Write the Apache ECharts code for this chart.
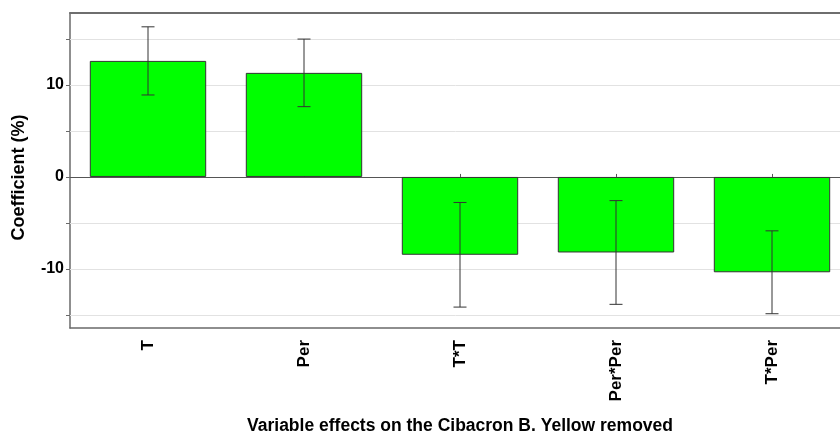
<!DOCTYPE html>
<html>
<head>
<meta charset="utf-8">
<script src="https://cdn.jsdelivr.net/npm/echarts@6/dist/echarts.min.js"></script>
<style>
  html, body { margin: 0; padding: 0; background: #ffffff; }
  #chart { width: 840px; height: 434px; }
</style>
</head>
<body>
<div id="chart"></div>
<script>
// Effect terms and their fitted coefficients (%) with confidence half-widths
const categories = ['T', 'Per', 'T*T', 'Per*Per', 'T*Per'];
const coefficients = [12.6, 11.3, -8.45, -8.2, -10.35];
const errorHalfWidths = [3.7, 3.67, 5.68, 5.63, 4.5];

// Value axis setup
const yMin = -16.4;
const yMax = 17.8;
const yLabelValues = [-10, 0, 10];
const yTickValues = [-15, -10, -5, 0, 5, 10, 15];
const gridLineValues = [-15, -10, -5, 5, 10, 15];

const errorData = categories.map((c, i) => [
  i,
  coefficients[i] - errorHalfWidths[i],
  coefficients[i] + errorHalfWidths[i]
]);

const chart = echarts.init(document.getElementById('chart'), null, { renderer: 'canvas' });

const boldFont = 'Arial, "Liberation Sans", sans-serif';

chart.setOption({
  animation: false,
  backgroundColor: '#ffffff',
  grid: {
    left: 70, top: 13, width: 780, bottom: 106,
    containLabel: false, outerBoundsMode: 'none'
  },
  xAxis: [
    {
      type: 'category',
      data: categories,
      position: 'bottom',
      axisLine: { onZero: false, lineStyle: { color: '#6a6a6a', width: 1.5 } },
      axisTick: { show: false },
      axisLabel: {
        rotate: 90, margin: 12,
        color: '#000', fontWeight: 'bold', fontSize: 17, fontFamily: boldFont
      },
      name: 'Variable effects on the Cibacron B. Yellow removed',
      nameLocation: 'middle',
      nameGap: 89,
      nameTextStyle: { color: '#000', fontWeight: 'bold', fontSize: 17.5, fontFamily: boldFont },
      splitLine: { show: false }
    },
    {
      type: 'category',
      data: categories,
      position: 'bottom',
      axisLine: { onZero: true, lineStyle: { color: '#555555', width: 1 } },
      axisTick: { show: true, inside: true, length: 3, alignWithLabel: true, lineStyle: { color: '#555' } },
      axisLabel: { show: false },
      splitLine: { show: false }
    },
    {
      type: 'category',
      data: categories,
      position: 'top',
      axisLine: { lineStyle: { color: '#6e6e6e', width: 2 } },
      axisTick: { show: false },
      axisLabel: { show: false },
      splitLine: { show: false }
    }
  ],
  yAxis: {
    type: 'value',
    min: yMin,
    max: yMax,
    axisLine: { show: true, lineStyle: { color: '#6a6a6a', width: 1.5 } },
    axisTick: { show: true, length: 4, customValues: yTickValues, lineStyle: { color: '#6a6a6a' } },
    axisLabel: {
      customValues: yLabelValues,
      margin: 6,
      color: '#000', fontWeight: 'bold', fontSize: 16, fontFamily: boldFont
    },
    splitLine: { show: false },
    name: 'Coefficient (%)',
    nameLocation: 'middle',
    nameGap: 42,
    nameTextStyle: { color: '#000', fontWeight: 'bold', fontSize: 18, fontFamily: boldFont, padding: [0, 14, 0, 0] }
  },
  series: [
    {
      // horizontal reference lines behind the bars
      type: 'line',
      xAxisIndex: 0,
      data: [],
      z: 1,
      markLine: {
        silent: true,
        z: 1,
        symbol: 'none',
        label: { show: false },
        lineStyle: { color: '#e2e2e2', width: 1, type: 'solid' },
        data: gridLineValues.map(v => ({ yAxis: v }))
      }
    },
    {
      type: 'bar',
      xAxisIndex: 0,
      data: coefficients,
      barCategoryGap: '25.4%',
      itemStyle: { color: '#00ff00', borderColor: '#333333', borderWidth: 1 },
      z: 3
    },
    {
      type: 'custom',
      xAxisIndex: 0,
      data: errorData,
      z: 5,
      renderItem: function (params, api) {
        const x = api.value(0);
        const lo = api.coord([x, api.value(1)]);
        const hi = api.coord([x, api.value(2)]);
        const half = 6.5;
        const style = { stroke: '#333333', lineWidth: 1 };
        return {
          type: 'group',
          children: [
            { type: 'line', shape: { x1: hi[0], y1: hi[1], x2: lo[0], y2: lo[1] }, style: style },
            { type: 'line', shape: { x1: hi[0] - half, y1: hi[1], x2: hi[0] + half, y2: hi[1] }, style: style },
            { type: 'line', shape: { x1: lo[0] - half, y1: lo[1], x2: lo[0] + half, y2: lo[1] }, style: style }
          ]
        };
      }
    }
  ]
});
</script>
</body>
</html>
